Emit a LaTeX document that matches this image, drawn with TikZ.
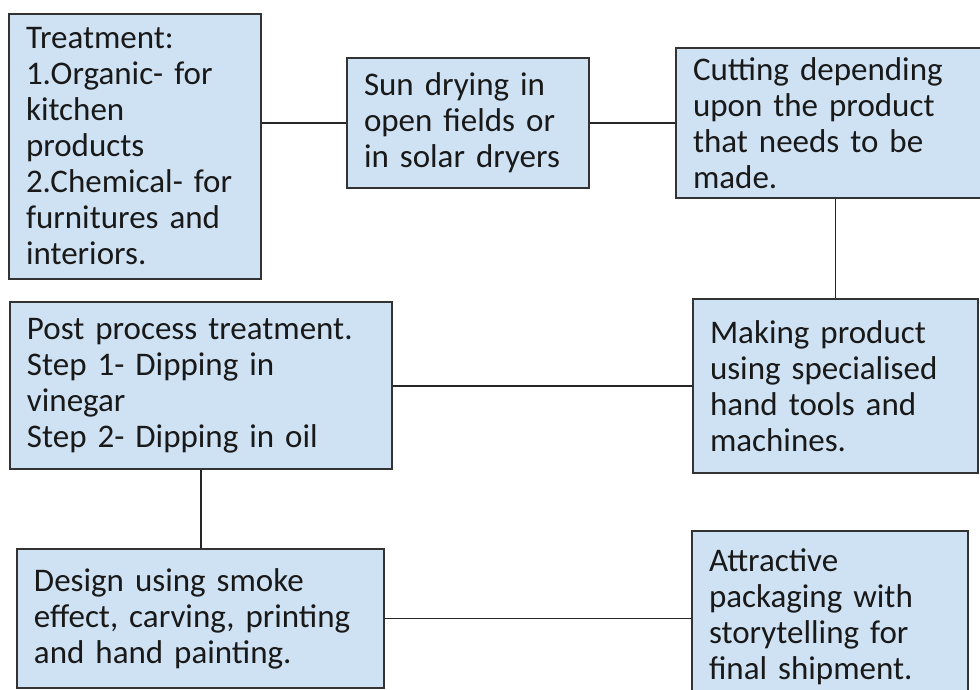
\documentclass[tikz,border=0pt]{standalone}
\usepackage{fontspec}
\setmainfont{Carlito}
\usepackage{tikz}
\usetikzlibrary{positioning}

\definecolor{boxfill}{HTML}{CFE2F3}
\definecolor{boxline}{HTML}{333333}

\tikzset{
  stagebox/.style={draw=boxline, fill=boxfill, line width=1.8pt, rectangle,
    inner xsep=17pt, inner ysep=0pt, align=left,
    font=\fontsize{33}{36}\selectfont, text=black!90},
  link/.style={line width=1.8pt, draw=black!85}
}

\begin{document}
\begin{tikzpicture}[x=1pt, y=1pt]
    \useasboundingbox (0,0) rectangle (980,-690);
    \clip (0,0) rectangle (980,-690);

    \node (treat) [stagebox, text width=218pt, minimum height=265pt] at (135,-146.5)
      {Treatment:\\1.Organic- for\\kitchen\\products\\2.Chemical- for\\furnitures and\\interiors.};
    \node (sun) [stagebox, text width=208pt, minimum height=130pt] at (468,-123)
      {Sun drying in\\open fields or\\in solar dryers};
    \node (cut) [stagebox, text width=285pt, minimum height=150pt] at (835.5,-123)
      {Cutting depending\\upon the product\\that needs to be\\made.};
    \node (make) [stagebox, text width=251pt, minimum height=174pt] at (835.5,-386)
      {Making product\\using specialised\\hand tools and\\machines.};
    \node (post) [stagebox, text width=348pt, minimum height=167pt] at (201,-385.5)
      {Post process treatment.\\Step 1- Dipping in\\vinegar\\Step 2- Dipping in oil};
    \node (design) [stagebox, text width=333pt, minimum height=139pt] at (200.5,-618.5)
      {Design using smoke\\effect, carving, printing\\and hand painting.};
    \node (pack) [stagebox, text width=242pt, minimum height=172pt] at (830,-617)
      {Attractive\\packaging with\\storytelling for\\final shipment.};

    \path [link]
      (treat.east |- sun.west) edge (sun.west)
      (sun) edge (cut)
      (cut) edge (make)
      (make.west -| post.east) edge (make.west)
      (post.south) edge (post.south |- design.north)
      (design.east) edge (design.east -| pack.west);
\end{tikzpicture}
\end{document}
